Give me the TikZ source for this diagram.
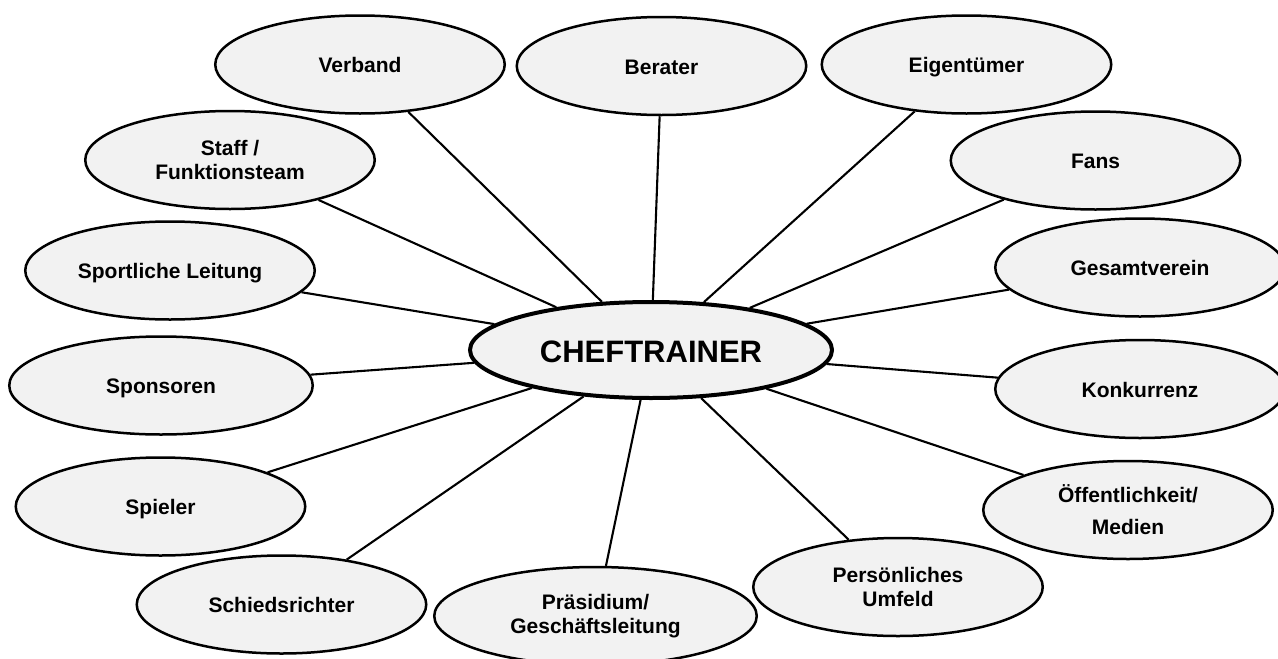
\documentclass[tikz,border=0pt]{standalone}
\usepackage{fontspec}
\setmainfont{Liberation Sans}
\usetikzlibrary{shapes.geometric}

\definecolor{bubblefill}{HTML}{F2F2F2}

\tikzset{
  bubble/.style={ellipse, draw=black, line width=2.5pt, fill=bubblefill,
    inner sep=0pt, minimum width=289.5pt, minimum height=98pt,
    align=center, font=\fontsize{21}{23.5}\selectfont\bfseries},
  oneline/.style={text height=16pt, text depth=0pt},
  hub/.style={bubble, line width=4pt, minimum width=362pt, minimum height=96pt,
    font=\fontsize{31}{34}\selectfont\bfseries},
  spoke/.style={line width=2.1pt, draw=black}
}

\begin{document}
\begin{tikzpicture}[x=1pt, y=-1pt]
\useasboundingbox (0,0) rectangle (1278,659);
\clip (0,0) rectangle (1278,659);

% central node
\node[hub, text height=25pt, text depth=0pt] (chef) at (651,350) {CHEFTRAINER};

% surrounding stakeholders
\node[bubble, oneline] (verband)  at (360,64.5)   {Verband};
\node[bubble, oneline] (berater)  at (661.5,66)   {Berater};
\node[bubble, oneline] (eigen)    at (966.5,64.5) {Eigentümer};
\node[bubble, oneline] (fans)     at (1095.5,160.5) {Fans};
\node[bubble, oneline] (gesamt)   at (1140,267.5) {Gesamtverein};
\node[bubble, oneline] (konk)     at (1140,389)   {Konkurrenz};
\node[bubble, font=\fontsize{21}{32}\selectfont\bfseries] (medien) at (1128,510)
  {Öffentlichkeit/\\Medien};
\node[bubble] (umfeld)   at (898,587)    {Persönliches\\Umfeld};
\node[bubble, minimum width=322.5pt] (praes) at (595.5,616)
  {Präsidium/\\Geschäftsleitung};
\node[bubble, oneline] (schiri)   at (281.5,604.5) {Schiedsrichter};
\node[bubble, oneline] (spieler)  at (160.5,506.5) {Spieler};
\node[bubble, oneline, minimum width=303.5pt] (sponsor) at (161,385.5) {Sponsoren};
\node[bubble, oneline] (sportl)   at (170,270.5)  {Sportliche Leitung};
\node[bubble] (staff)    at (230,160)    {Staff /\\Funktionsteam};

% spokes from the head coach to every stakeholder
\foreach \other in {verband, berater, eigen, fans, gesamt, konk, medien,
                    umfeld, praes, schiri, spieler, sponsor, sportl, staff}
  \draw[spoke] (chef) -- (\other);
\end{tikzpicture}
\end{document}
